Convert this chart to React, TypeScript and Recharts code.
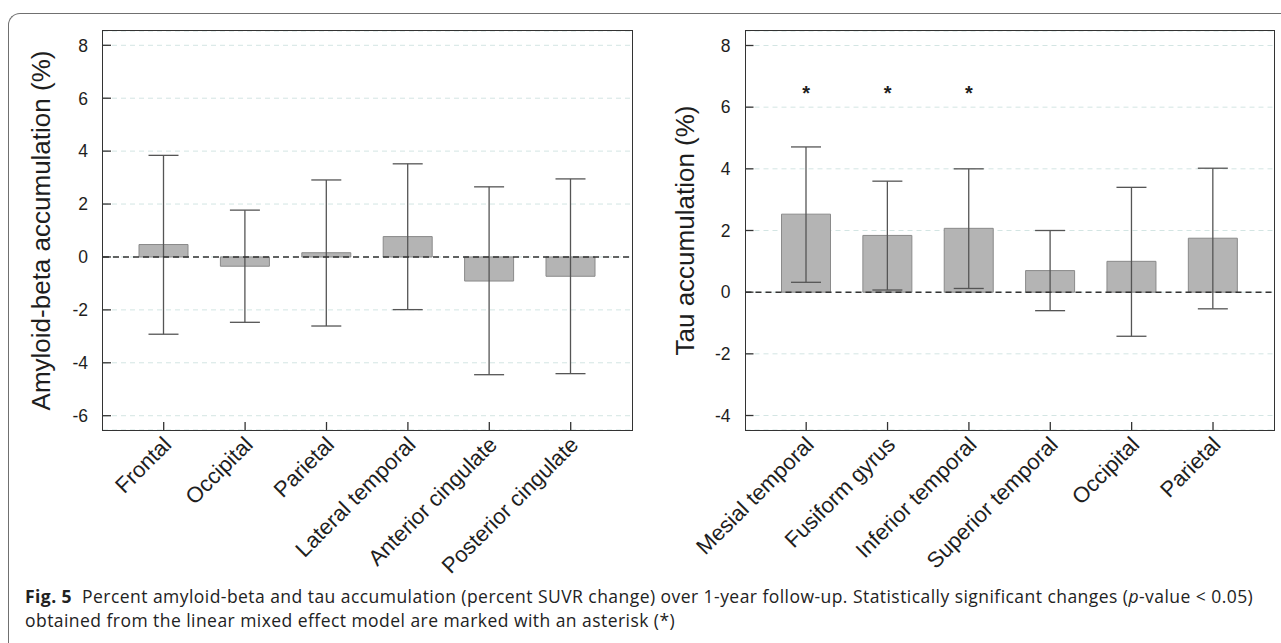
import React from "react";
import {
  BarChart,
  ComposedChart,
  Bar,
  Scatter,
  XAxis,
  YAxis,
  CartesianGrid,
  ErrorBar,
  ReferenceLine,
} from "recharts";

// amyloid-beta panel
const amyloidRegions = ["Frontal", "Occipital", "Parietal", "Lateral temporal", "Anterior cingulate", "Posterior cingulate"];
const amyloidMean = [0.47, -0.35, 0.16, 0.77, -0.91, -0.73];
const amyloidLow = [-2.92, -2.47, -2.61, -1.99, -4.45, -4.41];
const amyloidHigh = [3.84, 1.77, 2.91, 3.52, 2.65, 2.95];
const amyloidTicks = [-6, -4, -2, 0, 2, 4, 6, 8];
const amyloidDomain = [-6.54, 8.54];

// tau panel
const tauRegions = ["Mesial temporal", "Fusiform gyrus", "Inferior temporal", "Superior temporal", "Occipital", "Parietal"];
const tauMean = [2.53, 1.84, 2.07, 0.7, 1.0, 1.75];
const tauLow = [0.32, 0.07, 0.12, -0.6, -1.43, -0.54];
const tauHigh = [4.71, 3.6, 4.0, 2.0, 3.4, 4.02];
const tauStars = [6.52, 6.52, 6.52, null, null, null];
const tauTicks = [-4, -2, 0, 2, 4, 6, 8];
const tauDomain = [-4.47, 8.47];

const AXIS_FONT = "Arial, 'Liberation Sans', Helvetica, sans-serif";
const TEXT = "#1e1e1e";
const PLOT_TOP = 31;
const PLOT_H = 399;

function buildRows(names: string[], mean: number[], low: number[], high: number[], stars?: (number | null)[]) {
  return names.map((name, i) => ({
    name,
    value: mean[i],
    err: [mean[i] - low[i], high[i] - mean[i]],
    star: stars ? stars[i] : null,
  }));
}

const amyloidRows = buildRows(amyloidRegions, amyloidMean, amyloidLow, amyloidHigh);
const tauRows = buildRows(tauRegions, tauMean, tauLow, tauHigh, tauStars);

function YTick(props: any) {
  const { y, payload, plotLeft } = props;
  return (
    <g>
      <line x1={plotLeft} x2={plotLeft + 8} y1={y} y2={y} stroke="#333" strokeWidth={1.3} />
      <text x={plotLeft - 15} y={y} dy="0.36em" textAnchor="end" fontSize={17.5} fontFamily={AXIS_FONT} fill={TEXT}>
        {payload.value}
      </text>
    </g>
  );
}

function XTick(props: any) {
  const { x, payload } = props;
  const bottom = PLOT_TOP + PLOT_H;
  const tx = x + 9;
  const ty = bottom + 16;
  return (
    <g>
      <line x1={x} x2={x} y1={bottom} y2={bottom - 8} stroke="#333" strokeWidth={1.3} />
      <text x={tx} y={ty} transform={`rotate(-45 ${tx} ${ty})`} textAnchor="end" fontSize={22} fontFamily={AXIS_FONT} fill={TEXT}>
        {payload.value}
      </text>
    </g>
  );
}

function YTitle(props: any) {
  const { viewBox, value, cx } = props;
  const cy = viewBox.y + viewBox.height / 2;
  return (
    <text
      x={cx}
      y={cy}
      transform={`rotate(-90 ${cx} ${cy})`}
      textAnchor="middle"
      dominantBaseline="central"
      fontSize={26}
      fontFamily={AXIS_FONT}
      fill={TEXT}
    >
      {value}
    </text>
  );
}

function Star(props: any) {
  const { cx, cy, payload } = props;
  if (payload == null || payload.star == null || cy == null || isNaN(cy)) return null;
  return (
    <text x={cx} y={cy + 9} textAnchor="middle" fontSize={20} fontWeight="bold" fontFamily={AXIS_FONT} fill={TEXT}>
      *
    </text>
  );
}

function Panel({ rows, ticks, domain, title, yAxisWidth, width, rightMargin, titleX, withStars }: any) {
  const Chart: any = withStars ? ComposedChart : BarChart;
  const plotW = width - yAxisWidth - rightMargin;
  return (
    <div style={{ position: "relative", width, height: 580 }}>
      <Chart width={width} height={580} data={rows} margin={{ top: PLOT_TOP, right: rightMargin, left: 0, bottom: 0 }}>
        <CartesianGrid horizontal vertical={false} stroke="#d3e5e3" strokeDasharray="5 4" />
        <XAxis
          dataKey="name"
          type="category"
          height={580 - PLOT_TOP - PLOT_H}
          padding={{ left: 20, right: 20 }}
          axisLine={false}
          tickLine={false}
          tickSize={0}
          tickMargin={0}
          interval={0}
          tick={<XTick />}
        />
        <YAxis
          type="number"
          domain={domain}
          ticks={ticks}
          allowDataOverflow
          width={yAxisWidth}
          axisLine={false}
          tickLine={false}
          tickSize={0}
          tickMargin={0}
          interval={0}
          tick={<YTick plotLeft={yAxisWidth} />}
          label={<YTitle value={title} cx={titleX} />}
        />
        <Bar dataKey="value" barSize={49} fill="#b4b4b4" stroke="#8a8a8a" strokeWidth={1} isAnimationActive={false}>
          <ErrorBar dataKey="err" width={15} stroke="#555" strokeWidth={1.3} isAnimationActive={false} />
        </Bar>
        {withStars && <Scatter dataKey="star" shape={<Star />} isAnimationActive={false} />}
        <ReferenceLine y={0} stroke="#333" strokeWidth={1.5} strokeDasharray="6 4" />
      </Chart>
      {/* plot frame */}
      <div
        style={{
          position: "absolute",
          left: yAxisWidth - 0.75,
          top: PLOT_TOP - 0.75,
          width: plotW,
          height: PLOT_H,
          border: "1.5px solid #333",
          pointerEvents: "none",
        }}
      />
    </div>
  );
}

export default function App() {
  return (
    <div style={{ position: "fixed", left: 0, top: 0, width: 1281, height: 643, background: "#fff", overflow: "hidden" }}>
      <div
        style={{
          position: "absolute",
          left: 8,
          top: 13,
          width: 1320,
          height: 700,
          borderLeft: "1.5px solid #707070",
          borderTop: "1.5px solid #707070",
          borderTopLeftRadius: 12,
        }}
      />
      <div style={{ position: "absolute", left: 0, top: 0 }}>
        <Panel
          rows={amyloidRows}
          ticks={amyloidTicks}
          domain={amyloidDomain}
          title="Amyloid-beta accumulation (%)"
          yAxisWidth={103}
          width={640}
          rightMargin={8.6}
          titleX={41}
        />
      </div>
      <div style={{ position: "absolute", left: 640, top: 0 }}>
        <Panel
          rows={tauRows}
          ticks={tauTicks}
          domain={tauDomain}
          title="Tau accumulation (%)"
          yAxisWidth={105.5}
          width={641}
          rightMargin={7.3}
          titleX={45}
          withStars
        />
      </div>
      <div
        style={{
          position: "absolute",
          left: 25,
          top: 584,
          fontFamily: "'Open Sans', 'Noto Sans', sans-serif",
          fontSize: 17.5,
          letterSpacing: 0.45,
          lineHeight: "24px",
          color: "#222",
          whiteSpace: "nowrap",
        }}
      >
        <div>
          <b>Fig. 5</b>&nbsp;&nbsp;Percent amyloid-beta and tau accumulation (percent SUVR change) over 1-year follow-up. Statistically significant changes (<i>p</i>-value &lt; 0.05)
        </div>
        <div>obtained from the linear mixed effect model are marked with an asterisk (*)</div>
      </div>
    </div>
  );
}
